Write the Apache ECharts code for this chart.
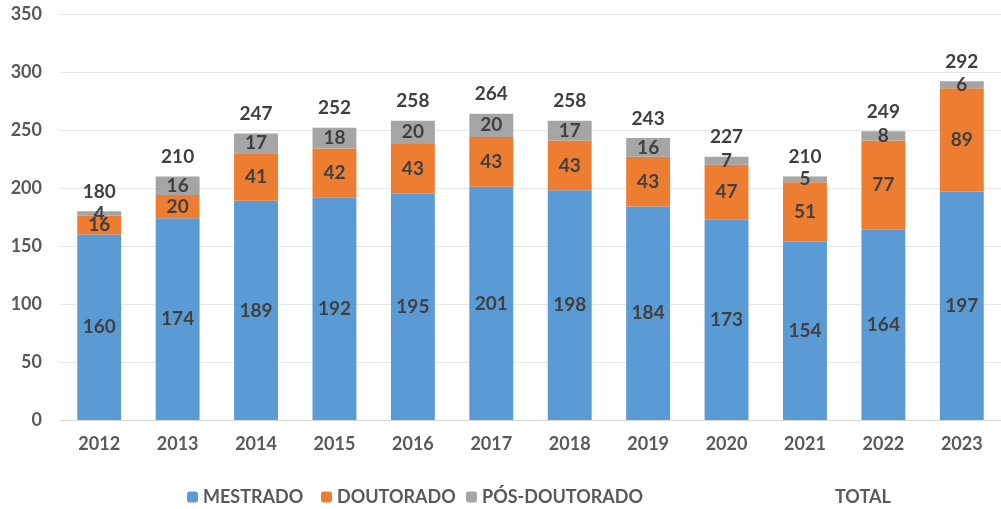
<!DOCTYPE html>
<html><head><meta charset="utf-8">
<script src="https://cdn.jsdelivr.net/npm/echarts@6/dist/echarts.min.js"></script>
<style>html,body{margin:0;padding:0;background:#fff}#c{width:1001px;height:509px}</style>
</head><body><div id="c"></div>
<script>
const categories = ['2012','2013','2014','2015','2016','2017','2018','2019','2020','2021','2022','2023'];
const mestrado = [160,174,189,192,195,201,198,184,173,154,164,197];
const doutorado = [16,20,41,42,43,43,43,43,47,51,77,89];
const posDoutorado = [4,16,17,18,20,20,17,16,7,5,8,6];
const total = [180,210,247,252,258,264,258,243,227,210,249,292];
const yTicks = [0,50,100,150,200,250,300,350];

const FONT = 'Lato';
const labelStyle = {show:true, position:'inside', color:'#404040', fontFamily:FONT, fontWeight:'bold', fontSize:19};
const chart = echarts.init(document.getElementById('c'));
const legendText = {color:'#595959', fontFamily:FONT, fontWeight:'bold', fontSize:18};
chart.setOption({
  animation:false,
  grid:{left:60, top:14, width:947, bottom:89, containLabel:false},
  legend:[
    {data:['MESTRADO'], left:182, top:483, itemWidth:11, itemHeight:11, textStyle:legendText},
    {data:['DOUTORADO'], left:316, top:483, itemWidth:11, itemHeight:11, textStyle:legendText},
    {data:['PÓS-DOUTORADO'], left:461, top:483, itemWidth:11, itemHeight:11, textStyle:legendText},
    {data:[{name:'TOTAL', icon:'none'}], left:814, top:483, itemWidth:11, itemHeight:11, textStyle:legendText}
  ],
  xAxis:{type:'category', data:categories,
    axisLine:{lineStyle:{color:'#D9D9D9'}}, axisTick:{show:false},
    axisLabel:{color:'#595959', fontFamily:FONT, fontWeight:'bold', fontSize:18, margin:15}},
  yAxis:{type:'value', min:yTicks[0], max:yTicks[yTicks.length-1], interval:50,
    axisLine:{show:false}, axisTick:{show:false},
    splitLine:{lineStyle:{color:'#E6E6E6'}},
    axisLabel:{color:'#595959', fontFamily:FONT, fontWeight:'bold', fontSize:18, margin:18}},
  series:[
    {name:'MESTRADO', type:'bar', stack:'a', data:mestrado, barWidth:'56%', barGap:'-100%', itemStyle:{color:'#5B9BD5'}, label:labelStyle, z:3},
    {name:'DOUTORADO', type:'bar', stack:'a', data:doutorado, itemStyle:{color:'#ED7D31'}, label:labelStyle, z:3},
    {name:'PÓS-DOUTORADO', type:'bar', stack:'a', data:posDoutorado, itemStyle:{color:'#A5A5A5'}, label:labelStyle, z:3},
    {name:'TOTAL', type:'bar', data:total, barWidth:'56%', barGap:'-100%', z:1, silent:true,
      itemStyle:{color:'rgba(0,0,0,0)'},
      label:{show:true, position:'top', distance:10, color:'#404040', fontFamily:FONT, fontWeight:'bold', fontSize:19}}
  ]
});
</script></body></html>
